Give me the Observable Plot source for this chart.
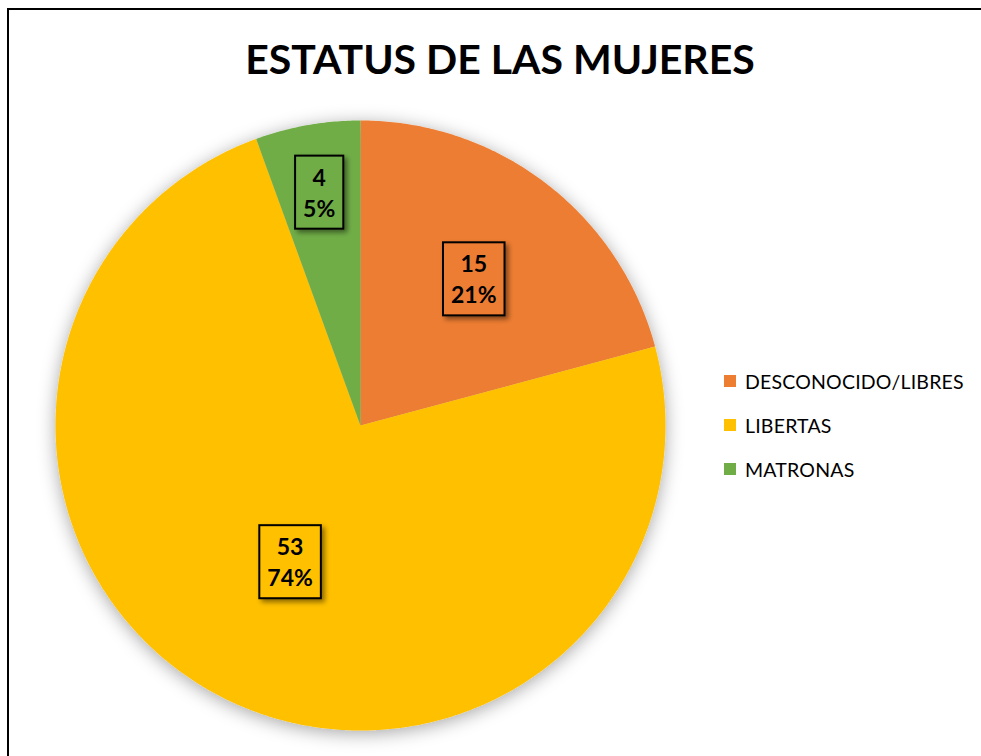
<!DOCTYPE html>
<html><head><meta charset="utf-8">
<script src="https://cdn.jsdelivr.net/npm/d3@7"></script>
<script src="https://cdn.jsdelivr.net/npm/@observablehq/plot@0.6"></script>
<style>
body{margin:0;background:#fff;overflow:hidden;}
#page{position:relative;width:981px;height:756px;overflow:hidden;font-family:Lato,"Open Sans",sans-serif;background:#fff;}
#frame{position:absolute;left:7px;top:8px;width:1200px;height:1200px;border:2px solid #000;box-sizing:border-box;pointer-events:none;}
#title{position:absolute;left:0;top:38px;width:1000px;text-align:center;font-weight:bold;font-size:41px;line-height:42px;color:#000;}
#chart{position:absolute;left:0;top:100px;}
#legend{position:absolute;left:724px;top:359px;}
.item{display:flex;align-items:center;height:44px;font-size:19.5px;letter-spacing:0.2px;color:#000;}
.sw{width:12px;height:12px;margin-right:9px;}
</style></head>
<body><div id="page"><div id="title">ESTATUS DE LAS MUJERES</div><div id="chart"></div><div id="legend"></div><div id="frame"></div></div>
<script>
const categories = ["DESCONOCIDO/LIBRES", "LIBERTAS", "MATRONAS"];
const counts = [15, 53, 4];
const percentLabels = ["21%", "74%", "5%"];
const colors = ["#ED7D31", "#FFC000", "#70AD47"];

// label placement (fraction of radius, Excel "best fit")
const labelRadius = [0.61, 0.50, 0.78];

const total = d3.sum(counts);
let acc = 0;
const slices = categories.map((c, i) => {
  const a0 = acc / total * 2 * Math.PI; acc += counts[i];
  const a1 = acc / total * 2 * Math.PI;
  return {c, i, a0, a1};
});
const pts = [];
for (const s of slices) {
  pts.push({c: s.c, x: 0, y: 0});
  const n = Math.max(2, Math.ceil((s.a1 - s.a0) / (Math.PI / 360)));
  for (let k = 0; k <= n; k++) {
    const a = s.a0 + (s.a1 - s.a0) * k / n;
    pts.push({c: s.c, x: Math.sin(a), y: Math.cos(a)});
  }
}
const labels = slices.map(s => {
  const m = (s.a0 + s.a1) / 2, r = labelRadius[s.i];
  return {c: s.c, x: r * Math.sin(m), y: r * Math.cos(m), t: counts[s.i] + "\n" + percentLabels[s.i]};
});

const plot = Plot.plot({
  width: 981, height: 656,
  marginLeft: 55, marginRight: 316, marginTop: 20, marginBottom: 26,
  x: {domain: [-1, 1], axis: null},
  y: {domain: [-1, 1], axis: null},
  color: {domain: categories, range: colors},
  style: {background: "transparent", overflow: "visible"},
  marks: [
    Plot.line(pts, {x: "x", y: "y", z: "c", fill: "c", stroke: "none"}),
    Plot.text(labels, {x: "x", y: "y", text: "t", fontSize: 23, fontWeight: "bold", lineHeight: 1.35, fill: "#000", fontFamily: "Lato"})
  ]
});
document.getElementById("chart").appendChild(plot);

const svg = d3.select(plot);
const defs = svg.insert("defs", ":first-child");
const f1 = defs.append("filter").attr("id", "pieShadow").attr("x", "-20%").attr("y", "-20%").attr("width", "140%").attr("height", "140%");
f1.append("feDropShadow").attr("dx", 0).attr("dy", 3).attr("stdDeviation", 9).attr("flood-color", "#000").attr("flood-opacity", 0.35);
const f2 = defs.append("filter").attr("id", "boxShadow").attr("x", "-30%").attr("y", "-30%").attr("width", "160%").attr("height", "160%");
f2.append("feDropShadow").attr("dx", 3).attr("dy", 3).attr("stdDeviation", 2.5).attr("flood-color", "#000").attr("flood-opacity", 0.45);
svg.select('g[aria-label="line"]').attr("filter", "url(#pieShadow)");

svg.selectAll('g[aria-label="text"] text').each(function(_, j) {
  const bb = this.getBBox();
  const padX = 8, padY = 7;
  const r = document.createElementNS("http://www.w3.org/2000/svg", "rect");
  r.setAttribute("x", bb.x - padX);
  r.setAttribute("y", bb.y - padY);
  r.setAttribute("width", bb.width + 2 * padX);
  r.setAttribute("height", bb.height + 2 * padY);
  r.setAttribute("fill", colors[j]);
  r.setAttribute("stroke", "#000");
  r.setAttribute("stroke-width", 2);
  r.setAttribute("filter", "url(#boxShadow)");
  const tr = this.getAttribute("transform");
  if (tr) r.setAttribute("transform", tr);
  this.parentNode.insertBefore(r, this);
});

const legend = d3.select("#legend");
categories.forEach((c, i) => {
  const it = legend.append("div").attr("class", "item");
  it.append("div").attr("class", "sw").style("background", colors[i]);
  it.append("span").text(c);
});
</script></body></html>
